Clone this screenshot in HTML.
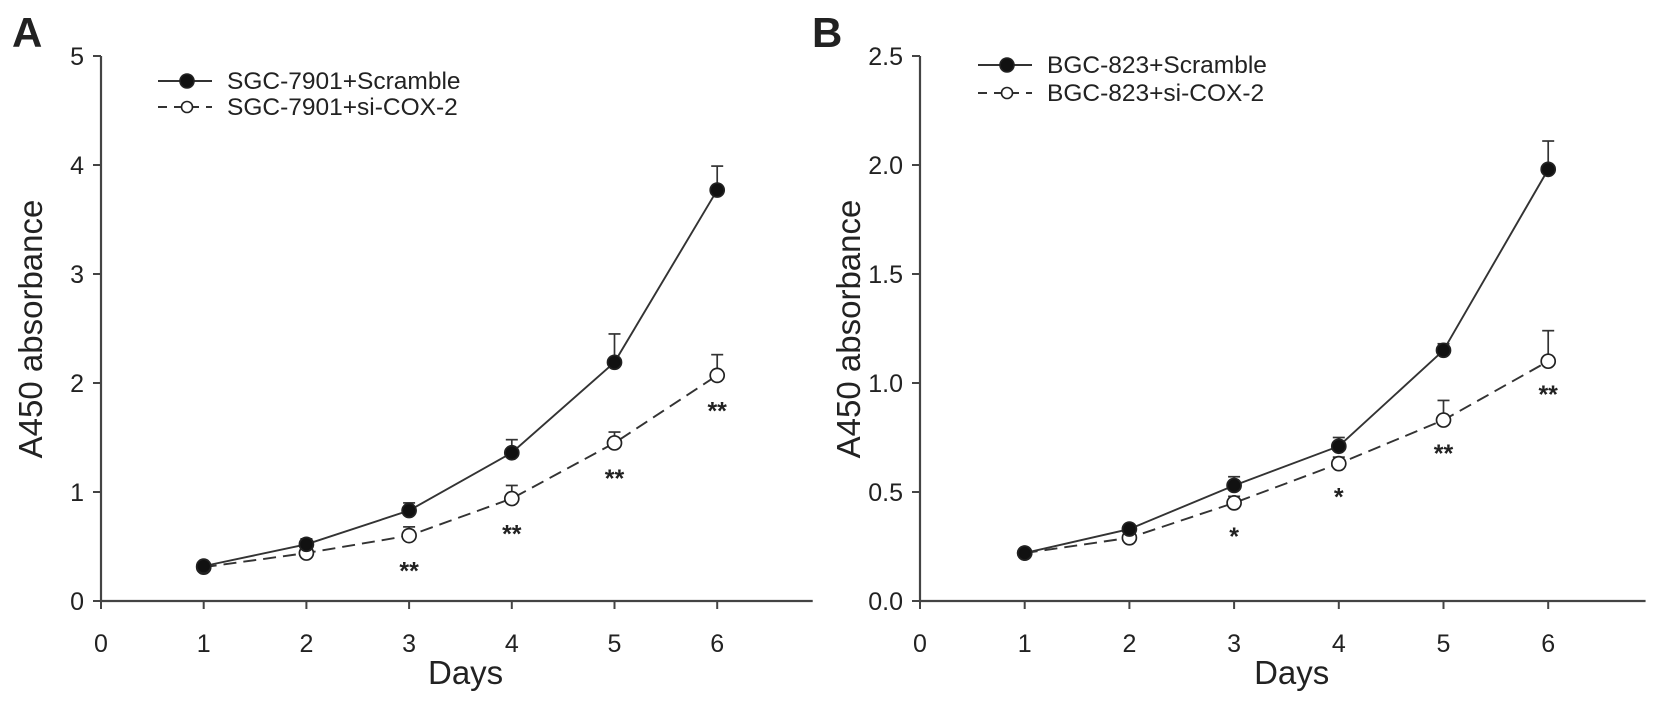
<!DOCTYPE html>
<html><head><meta charset="utf-8"><style>
body{margin:0;background:#fff}
svg text{font-family:"Liberation Sans",Arial,sans-serif;fill:#222}
</style></head><body>
<svg id="c" width="1656" height="706"></svg>
<script>
const days=[1,2,3,4,5,6];
const xTicks=[0,1,2,3,4,5,6];
const aScr=[0.32,0.52,0.83,1.36,2.19,3.77];
const aScrErr=[0,0.05,0.07,0.12,0.26,0.22];
const aSi=[0.31,0.44,0.60,0.94,1.45,2.07];
const aSiErr=[0,0,0.08,0.12,0.10,0.19];
const aStars=["","","**","**","**","**"];
const aYTicks=["0","1","2","3","4","5"];
const bScr=[0.22,0.33,0.53,0.71,1.15,1.98];
const bScrErr=[0.01,0.01,0.04,0.04,0.03,0.13];
const bSi=[0.22,0.29,0.45,0.63,0.83,1.10];
const bSiErr=[0,0,0.03,0.03,0.09,0.14];
const bStars=["","","*","*","**","**"];
const bYTicks=["0.0","0.5","1.0","1.5","2.0","2.5"];
const NS="http://www.w3.org/2000/svg";
const svg=document.getElementById('c');
function el(t,a,p){const e=document.createElementNS(NS,t);for(const k in a)e.setAttribute(k,a[k]);(p||svg).appendChild(e);return e;}
function panel(o){
  const g=el('g',{});
  
  
  const X=v=>o.x0+v*o.sx, Y=v=>o.y0-v*o.sy;
  const ax=el('path',{d:`M${o.x0},${Y(o.ymax)}V${o.y0}H${X(6.93)}`,stroke:'#444','stroke-width':2.2,fill:'none'},g);
  
  xTicks.forEach(t=>{el('line',{x1:X(t),x2:X(t),y1:o.y0,y2:o.y0+8,stroke:'#444','stroke-width':2},g);
    const tx=el('text',{x:X(t),y:o.y0+51,'font-size':25,'text-anchor':'middle'},g);tx.textContent=t;
    });
  o.yt.forEach((t,i)=>{const v=i*o.ystep;el('line',{x1:o.x0-8,x2:o.x0,y1:Y(v),y2:Y(v),stroke:'#444','stroke-width':2},g);
    const tx=el('text',{x:o.x0-17,y:Y(v)+9,'font-size':25,'text-anchor':'end'},g);tx.textContent=t;
    });
  const xt=el('text',{x:X(3.55),y:684,'font-size':33,'text-anchor':'middle'},g);xt.textContent='Days';
  
  const yt=el('text',{x:0,y:0,'font-size':33,'text-anchor':'middle',transform:`translate(${o.yx},329) rotate(-90)`},g);yt.textContent='A450 absorbance';
  
  const pl=el('text',{x:o.lx,y:47,'font-size':42,'font-weight':'bold'},g);pl.textContent=o.letter;
  
  function series(vals,errs,filled,dash,nm){
    const ln=el('polyline',{points:days.map((d,i)=>X(d)+','+Y(vals[i])).join(' '),fill:'none',stroke:'#333','stroke-width':1.9,'stroke-dasharray':dash?'13,7':'none'},g);
    
    days.forEach((d,i)=>{
      if(errs[i]>0){el('line',{x1:X(d),x2:X(d),y1:Y(vals[i]),y2:Y(vals[i]+errs[i]),stroke:'#333','stroke-width':1.7},g);
        el('line',{x1:X(d)-6,x2:X(d)+6,y1:Y(vals[i]+errs[i]),y2:Y(vals[i]+errs[i]),stroke:'#333','stroke-width':1.7},g);}
      const c=el('circle',{cx:X(d),cy:Y(vals[i]),r:7,fill:filled?'#111':'#fff',stroke:'#222','stroke-width':1.7},g);
      
    });
  }
  series(o.si,o.siErr,false,true,'si-cox2');
  series(o.scr,o.scrErr,true,false,'scramble');
  days.forEach((d,i)=>{if(!o.stars[i])return;
    const s=el('text',{x:X(d),y:Y(o.si[i])+o.starOff,'font-size':25,'font-weight':'bold','text-anchor':'middle'},g);s.textContent=o.stars[i];
    });
  o.leg.forEach((L,i)=>{
    const y=o.legY+i*o.legDy;
    el('line',{x1:o.legX,x2:o.legX+54,y1:y,y2:y,stroke:'#333','stroke-width':1.9,'stroke-dasharray':i?'9,7':'none'},g);
    el('circle',{cx:o.legX+29,cy:y,r:i?5.5:7,fill:i?'#fff':'#111',stroke:'#222','stroke-width':1.6},g);
    const t=el('text',{x:o.legX+69,y:y+8,'font-size':24.5},g);t.textContent=L;
    
  });
}
panel({name:'panel-a',x0:101,y0:601,sx:102.7,sy:109,ymax:5,ystep:1,yt:aYTicks,scr:aScr,scrErr:aScrErr,si:aSi,siErr:aSiErr,stars:aStars,starOff:44,yx:42,lx:12,letter:'A',legX:158,legY:81,legDy:26,leg:['SGC-7901+Scramble','SGC-7901+si-COX-2']});
panel({name:'panel-b',x0:920,y0:601,sx:104.7,sy:218,ymax:2.5,ystep:0.5,yt:bYTicks,scr:bScr,scrErr:bScrErr,si:bSi,siErr:bSiErr,stars:bStars,starOff:42,yx:860,lx:812,letter:'B',legX:978,legY:65,legDy:28,leg:['BGC-823+Scramble','BGC-823+si-COX-2']});
</script>
</body></html>
